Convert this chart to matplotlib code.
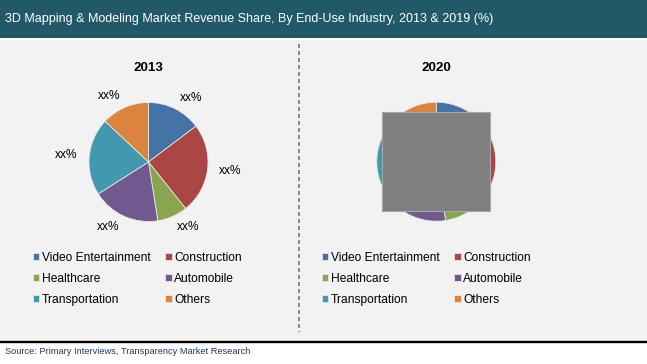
import matplotlib
matplotlib.use("Agg")
import matplotlib.pyplot as plt
from matplotlib.patches import Rectangle

plt.rcParams['font.family'] = ['Liberation Sans', 'DejaVu Sans']

# data
industries = ['Video Entertainment', 'Construction', 'Healthcare',
              'Automobile', 'Transportation', 'Others']
colors = ['#4572A7', '#AA4643', '#89A54E', '#71588F', '#4198AF', '#DB843D']
share_2013 = [14.7, 24.6, 8.2, 18.5, 21.0, 13.0]
share_2020 = [14.5, 24.5, 8.5, 18.5, 21.0, 13.0]
labels_2013 = ['xx%'] * 6   # placeholder data labels as in the source
year_titles = ['2013', '2020']
title = '3D Mapping & Modeling Market Revenue Share, By End-Use Industry, 2013 & 2019 (%)'
source = 'Source: Primary Interviews, Transparency Market Research'

W, H = 647, 364
fig = plt.figure(figsize=(W / 100, H / 100), dpi=100, facecolor='white')
ax = fig.add_axes([0, 0, 1, 1])

def py(y):
    # pixel row (from top) -> data y
    return H - y

# background blocks
ax.add_patch(Rectangle((0, py(37.7)), W, 37.7, fc='#215968', ec='none', zorder=0))
ax.add_patch(Rectangle((0, py(340.7)), W, 300.7, fc='#F2F2F2', ec='none', zorder=0))
ax.plot([0, W], [py(341.8), py(341.8)], color='black', lw=1.7, zorder=1)

ax.text(5, py(19), title, color='white', fontsize=9.0, va='center', ha='left')
ax.text(5, py(351.5), source, color='#203864', fontsize=6.7, va='center', ha='left')

# divider
ax.plot([299, 299], [py(44), py(332)], color='#8C8C8C', lw=1.44,
        linestyle=(0, (2, 1.5)), zorder=1)

centers = [(148.5, py(162)), (436.3, py(161.7))]
radius = 59.5
wedge_style = {'linewidth': 0.6, 'edgecolor': '#E6E6E6'}

# 2013 pie with placeholder labels
w13, t13 = ax.pie(share_2013, labels=labels_2013, colors=colors, startangle=90,
                  counterclock=False, center=centers[0], radius=radius,
                  wedgeprops=wedge_style, labeldistance=1.2,
                  textprops={'fontsize': 8.6, 'color': 'black'}, frame=True)
# pie picks alignment from absolute x, redo it relative to the pie centre
for t in t13:
    t.set_ha('left' if t.get_position()[0] > centers[0][0] else 'right')

# 2020 pie (covered by grey box in the original)
w20, _ = ax.pie(share_2020, colors=colors, startangle=90, counterclock=False,
                center=centers[1], radius=radius, wedgeprops=wedge_style, frame=True)
ax.add_patch(Rectangle((382.3, py(210.7)), 107.7, 99, fc='#7F7F7F', ec='#A6A6A6',
                       lw=0.8, zorder=5))

for (cx, cy), yr in zip(centers, year_titles):
    ax.text(cx, py(68.3), yr, fontsize=9.7, fontweight='bold', ha='center', va='center')

# legends: rows read left-to-right, matplotlib fills column-first
order = [0, 2, 4, 1, 3, 5]
leg_kw = dict(ncol=2, loc='upper left', frameon=False, borderpad=0,
              borderaxespad=0, fontsize=8.64, handlelength=0.55,
              handleheight=0.55, handletextpad=0.2, columnspacing=1.22,
              labelspacing=0.74, bbox_transform=ax.transData)
leg1 = ax.legend([w13[i] for i in order], [industries[i] for i in order],
                 bbox_to_anchor=(32.7, py(251.9)), **leg_kw)
ax.add_artist(leg1)
ax.legend([w20[i] for i in order], [industries[i] for i in order],
          bbox_to_anchor=(321.7, py(251.9)), **leg_kw)

ax.set_xlim(0, W)
ax.set_ylim(0, H)
ax.set_aspect('auto')
ax.axis('off')

fig.savefig('out.png', dpi=100, facecolor='white')
